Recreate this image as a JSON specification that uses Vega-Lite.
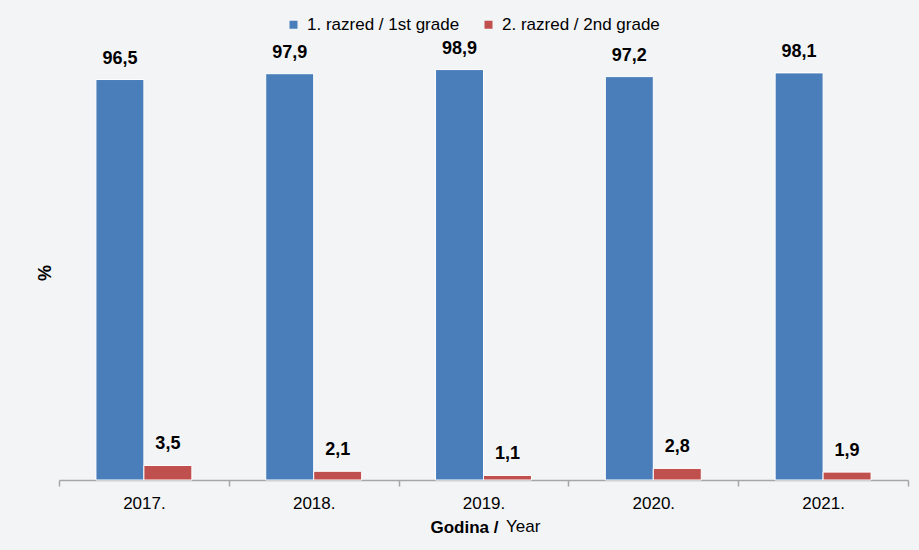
{
  "$schema": "https://vega.github.io/schema/vega-lite/v6.json",
  "width": 849,
  "height": 415,
  "autosize": {"type": "none"},
  "padding": {"left": 59, "top": 65, "right": 11, "bottom": 70},
  "background": "#f3f4f6",
  "title": {
    "text": "Year",
    "orient": "bottom",
    "anchor": "start",
    "frame": "group",
    "dx": 447,
    "offset": -16,
    "fontSize": 17,
    "fontWeight": "normal",
    "font": "Liberation Sans",
    "color": "#000000"
  },
  "config": {
    "locale": {
      "number": {"decimal": ",", "thousands": ".", "grouping": [3], "currency": ["", " €"]}
    },
    "view": {"stroke": null},
    "font": "Liberation Sans"
  },
  "data": {
    "values": [
      {"year": "2017.", "grade": "1. razred / 1st grade", "value": 96.5},
      {"year": "2017.", "grade": "2. razred / 2nd grade", "value": 3.5},
      {"year": "2018.", "grade": "1. razred / 1st grade", "value": 97.9},
      {"year": "2018.", "grade": "2. razred / 2nd grade", "value": 2.1},
      {"year": "2019.", "grade": "1. razred / 1st grade", "value": 98.9},
      {"year": "2019.", "grade": "2. razred / 2nd grade", "value": 1.1},
      {"year": "2020.", "grade": "1. razred / 1st grade", "value": 97.2},
      {"year": "2020.", "grade": "2. razred / 2nd grade", "value": 2.8},
      {"year": "2021.", "grade": "1. razred / 1st grade", "value": 98.1},
      {"year": "2021.", "grade": "2. razred / 2nd grade", "value": 1.9}
    ]
  },
  "encoding": {
    "x": {
      "field": "year",
      "type": "nominal",
      "sort": null,
      "scale": {"paddingInner": 0, "paddingOuter": 0},
      "axis": {
        "title": "Godina /",
        "titleFontWeight": "bold",
        "titleFontSize": 17,
        "titleColor": "#000000",
        "titleAnchor": "start",
        "titleAlign": "left",
        "titleX": 371,
        "titlePadding": 8,
        "labelAngle": 0,
        "labelFontSize": 17,
        "labelColor": "#000000",
        "labelPadding": 9,
        "tickBand": "extent",
        "tickSize": 6,
        "tickColor": "#a6a6a6",
        "domainColor": "#a6a6a6",
        "domainWidth": 1.5,
        "tickWidth": 1.5
      }
    },
    "xOffset": {
      "field": "grade",
      "type": "nominal",
      "scale": {"paddingInner": 0, "paddingOuter": 0.77}
    },
    "y": {
      "field": "value",
      "type": "quantitative",
      "scale": {"domain": [0, 100]},
      "axis": {
        "title": "%",
        "titleFontWeight": "bold",
        "titleFontSize": 18,
        "titleColor": "#000000",
        "titlePadding": 5,
        "labels": false,
        "ticks": false,
        "domain": false,
        "grid": false
      }
    }
  },
  "layer": [
    {
      "mark": {"type": "bar", "stroke": "#ffffff", "strokeWidth": 1},
      "encoding": {
        "color": {
          "field": "grade",
          "type": "nominal",
          "scale": {
            "domain": ["1. razred / 1st grade", "2. razred / 2nd grade"],
            "range": ["#4a7ebb", "#c0504d"]
          },
          "legend": {
            "title": null,
            "orient": "none",
            "direction": "horizontal",
            "legendX": 226,
            "legendY": -49,
            "symbolType": "square",
            "symbolSize": 64,
            "symbolStrokeWidth": 0,
            "labelFontSize": 17,
            "labelLimit": 0,
            "labelColor": "#000000",
            "labelOffset": 5,
            "columnPadding": 20,
            "padding": 0
          }
        }
      }
    },
    {
      "mark": {
        "type": "text",
        "baseline": "bottom",
        "dy": -12,
        "fontWeight": "bold",
        "fontSize": 18,
        "color": "#000000"
      },
      "encoding": {
        "text": {"field": "value", "type": "quantitative", "format": ".1f"}
      }
    }
  ]
}
